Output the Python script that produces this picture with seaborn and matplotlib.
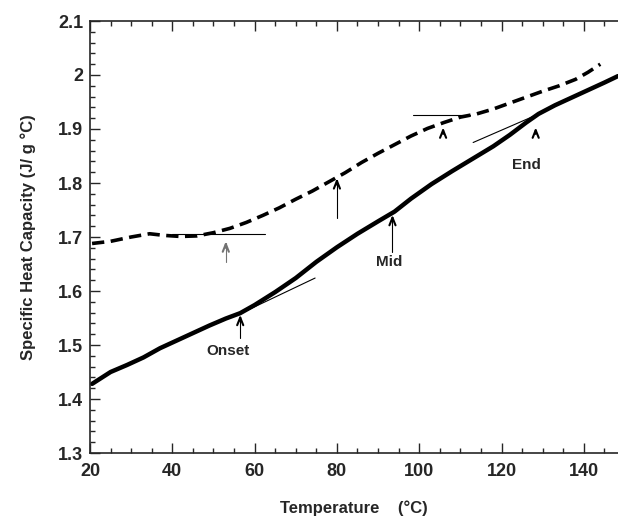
import numpy as np
import pandas as pd
import seaborn as sns
import matplotlib.pyplot as plt
from matplotlib.ticker import MultipleLocator

# solid curve (first heating)
solid_x = [20.5, 25, 29, 33, 37, 41, 45, 49, 53, 56.5, 60, 65, 70, 75, 80, 85, 90,
           94, 98, 103, 108, 113, 118, 122, 126, 129, 133, 137, 141, 145, 148.3]
solid_y = [1.428, 1.450, 1.463, 1.477, 1.494, 1.508, 1.522, 1.536, 1.549, 1.559,
           1.574, 1.598, 1.624, 1.654, 1.681, 1.706, 1.729, 1.747, 1.771, 1.798,
           1.822, 1.845, 1.868, 1.889, 1.912, 1.928, 1.944, 1.958, 1.972, 1.986, 1.998]

# dashed curve
dashed_x = [20.5, 25, 30, 34.5, 38, 42, 46, 50, 54, 58, 62, 66, 70, 74, 78, 82, 86,
            90, 94, 98, 102, 106, 110, 114, 118, 122, 126, 130, 134, 138, 141, 144]
dashed_y = [1.688, 1.692, 1.700, 1.706, 1.703, 1.701, 1.702, 1.708, 1.716, 1.727,
            1.740, 1.754, 1.770, 1.785, 1.802, 1.819, 1.838, 1.855, 1.871, 1.887,
            1.901, 1.912, 1.922, 1.928, 1.937, 1.948, 1.959, 1.970, 1.980, 1.992,
            2.005, 2.020]

# construction lines: (x0, x1, y0, y1)
tangent_lines = [(56.5, 74.7, 1.558, 1.624),
                 (113.1, 128.5, 1.875, 1.926),
                 (40.0, 62.5, 1.7055, 1.7055),
                 (98.5, 112.3, 1.926, 1.926)]

# arrows: (x, tail_y, tip_y, colour); tail == None -> head only
arrows = [(56.5, 1.513, 1.556, "black"),
          (93.5, 1.673, 1.741, "black"),
          (128.3, None, 1.903, "black"),
          (53.0, 1.654, 1.692, "0.45"),
          (80.0, 1.735, 1.809, "black"),
          (105.8, None, 1.903, "black")]

# labels: (text, x, y)
labels = [("Onset", 53.6, 1.488), ("Mid", 92.7, 1.654), ("End", 126.0, 1.833)]

sns.set_style("ticks")
plt.rcParams['font.family'] = ['Liberation Sans', 'DejaVu Sans']
plt.rcParams['font.weight'] = 'bold'

fig = plt.figure(figsize=(6.18, 5.17), dpi=100)
ax = fig.add_axes([90 / 618, 64 / 517, 528 / 618, 432 / 517])

solid = pd.DataFrame({"T": solid_x, "Cp": solid_y})
dashed = pd.DataFrame({"T": dashed_x, "Cp": dashed_y})
sns.lineplot(data=solid, x="T", y="Cp", ax=ax, color="black", lw=3.2,
             solid_capstyle="round", sort=False)
sns.lineplot(data=dashed, x="T", y="Cp", ax=ax, color="black", lw=2.6,
             dashes=False, linestyle=(0, (3.4, 1.8)), sort=False)

for x0, x1, y0, y1 in tangent_lines:
    ax.plot([x0, x1], [y0, y1], color="black", lw=0.8)

for x, y0, y1, c in arrows:
    if y0 is not None:
        ax.plot([x, x], [y0, y1 - 0.004], color=c, lw=0.8)
    ax.annotate("", xy=(x, y1), xytext=(x, y1 - 0.012),
                arrowprops=dict(arrowstyle="->,head_length=0.55,head_width=0.22",
                                color=c, lw=1.5, shrinkA=0, shrinkB=0))

for txt, x, y in labels:
    ax.text(x, y, txt, ha="center", va="center", fontsize=11, fontweight="bold")

ax.set_xlim(20, 148.3)
ax.set_ylim(1.3, 2.1)
ax.xaxis.set_major_locator(MultipleLocator(20))
ax.xaxis.set_minor_locator(MultipleLocator(5))
ax.set_yticks(np.arange(1.3, 2.11, 0.1))
ax.set_yticklabels(["1.3", "1.4", "1.5", "1.6", "1.7", "1.8", "1.9", "2", "2.1"])
ax.yaxis.set_minor_locator(MultipleLocator(0.02))
ax.tick_params(which="both", direction="in", top=True, right=False, width=1)
ax.tick_params(which="major", length=7, labelsize=13)
ax.tick_params(axis="x", which="major", pad=7)
ax.tick_params(axis="y", which="major", pad=5)
ax.tick_params(which="minor", length=3.5)
for lab in ax.get_xticklabels() + ax.get_yticklabels():
    lab.set_fontweight("bold")
ax.spines["right"].set_visible(False)
for s in ["left", "top", "bottom"]:
    ax.spines[s].set_linewidth(1.2)

ax.set_xlabel("Temperature    (°C)", fontsize=12, fontweight="bold", labelpad=15)
ax.set_ylabel("Specific Heat Capacity (J/ g °C)", fontsize=12, fontweight="bold",
              labelpad=16)

fig.savefig("out.png", dpi=100)
